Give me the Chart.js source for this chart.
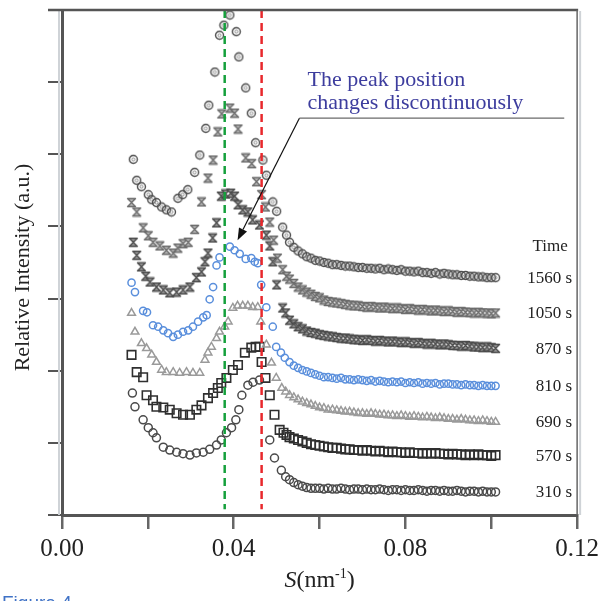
<!DOCTYPE html>
<html><head><meta charset="utf-8">
<script src="https://cdn.jsdelivr.net/npm/chart.js@4.4.1/dist/chart.umd.min.js"></script>
<style>html,body{margin:0;padding:0;background:#fff;} canvas{display:block;}</style>
</head><body>
<canvas id="c" width="604" height="601"></canvas>
<script>
// ---- data ----
const timeLabels = ['1560 s','1050 s','870 s','810 s','690 s','570 s','310 s'];
const xTickLabels = ['0.00','0.04','0.08','0.12'];
const peakLineS = [0.0379, 0.0465]; // green, red dashed markers

const sTail = [0.053,0.054,0.055,0.056,0.057,0.058,0.059,0.060,0.061,0.062,
  0.063,0.064,0.065,0.066,0.067,0.068,0.069,0.070,0.071,0.072,
  0.073,0.074,0.075,0.076,0.077,0.078,0.079,0.080,0.081,0.082,
  0.083,0.084,0.085,0.086,0.087,0.088,0.089,0.090,0.091,0.092,
  0.093,0.094,0.095,0.096,0.097,0.098,0.099,0.100,0.101];

const head1560S = [0.0166,0.0174,0.0185,0.0201,0.0209,0.0220,0.0232,0.0243,0.0255,0.0270,0.0281,0.0293,0.0309,0.0321,0.0335,0.0342,0.0356,0.0367,0.0377,0.0391,0.0406,0.0412,0.0428,0.0441,0.0451,0.0468,0.0476,0.0491,0.0500,0.0514,0.0523];
const head1560I = [4.93,4.64,4.55,4.44,4.37,4.33,4.27,4.23,4.20,4.39,4.44,4.51,4.75,4.99,5.36,5.68,6.14,6.65,6.79,6.93,6.70,6.35,5.92,5.57,5.16,4.92,4.71,4.34,4.21,3.99,3.88];
const tail1560 = [3.78,3.71,3.66,3.62,3.58,3.56,3.53,3.52,3.50,3.49,3.47,3.47,3.46,3.45,3.45,3.44,3.43,3.43,3.42,3.42,3.41,3.42,3.40,3.41,3.40,3.39,3.40,3.38,3.38,3.37,3.38,3.36,3.36,3.35,3.36,3.34,3.35,3.34,3.33,3.33,3.32,3.32,3.31,3.31,3.30,3.30,3.29,3.29,3.29];

const head1050S = [0.0162,0.0174,0.0189,0.0201,0.0212,0.0228,0.0243,0.0259,0.0270,0.0282,0.0294,0.0309,0.0325,0.0340,0.0352,0.0363,0.0372,0.0391,0.0402,0.0410,0.0428,0.0442,0.0453,0.0465,0.0474,0.0484,0.0493,0.0502,0.0514,0.0523];
const head1050I = [4.33,4.20,3.98,3.87,3.78,3.73,3.67,3.63,3.70,3.76,3.78,3.96,4.34,4.67,4.92,5.31,5.56,5.64,5.57,5.35,4.95,4.87,4.62,4.44,4.27,4.06,3.81,3.56,3.40,3.31];
const tail1050 = [3.27,3.21,3.16,3.12,3.09,3.06,3.03,3.01,2.98,2.96,2.95,2.94,2.93,2.92,2.91,2.90,2.90,2.89,2.88,2.89,2.88,2.87,2.88,2.87,2.86,2.87,2.86,2.85,2.86,2.85,2.84,2.85,2.84,2.83,2.84,2.83,2.82,2.83,2.82,2.81,2.82,2.81,2.81,2.80,2.81,2.80,2.80,2.79,2.80];

const head870S = [0.0166,0.0174,0.0185,0.0195,0.0205,0.0220,0.0236,0.0251,0.0267,0.0282,0.0298,0.0313,0.0325,0.0333,0.0340,0.0351,0.0360,0.0371,0.0381,0.0393,0.0402,0.0410,0.0421,0.0433,0.0444,0.0460,0.0476,0.0484,0.0491,0.0500,0.0514,0.0521];
const head870I = [3.78,3.60,3.44,3.31,3.23,3.16,3.12,3.08,3.09,3.12,3.16,3.29,3.37,3.51,3.63,3.84,4.05,4.42,4.45,4.46,4.42,4.30,4.23,4.20,4.09,4.02,3.88,3.73,3.51,3.19,2.87,2.80];
const tail870 = [2.70,2.65,2.61,2.58,2.55,2.53,2.52,2.50,2.49,2.48,2.47,2.46,2.45,2.45,2.44,2.43,2.43,2.42,2.43,2.42,2.41,2.42,2.41,2.40,2.41,2.40,2.39,2.40,2.39,2.38,2.39,2.38,2.37,2.38,2.37,2.36,2.37,2.36,2.35,2.35,2.34,2.35,2.34,2.33,2.33,2.32,2.33,2.32,2.31];

const head810S = [0.0162,0.0170,0.0189,0.0198,0.0212,0.0224,0.0236,0.0247,0.0259,0.0270,0.0282,0.0294,0.0305,0.0317,0.0329,0.0337,0.0344,0.0352,0.0360,0.0367,0.0391,0.0402,0.0414,0.0428,0.0441,0.0449,0.0456,0.0464,0.0476,0.0491,0.0499,0.0510,0.0519];
const head810I = [3.22,3.09,2.83,2.81,2.63,2.61,2.56,2.52,2.47,2.50,2.54,2.56,2.61,2.68,2.74,2.77,2.99,3.16,3.46,3.57,3.72,3.67,3.62,3.55,3.56,3.51,3.49,3.19,2.88,2.61,2.33,2.25,2.18];
const tail810 = [2.12,2.07,2.04,2.01,1.99,1.97,1.95,1.93,1.91,1.91,1.90,1.89,1.90,1.88,1.88,1.87,1.88,1.87,1.86,1.87,1.85,1.86,1.85,1.84,1.85,1.84,1.85,1.83,1.84,1.83,1.84,1.82,1.83,1.82,1.83,1.81,1.82,1.82,1.81,1.81,1.80,1.81,1.80,1.80,1.79,1.80,1.79,1.79,1.79];

const head690S = [0.0162,0.0170,0.0185,0.0197,0.0209,0.0220,0.0232,0.0243,0.0259,0.0274,0.0290,0.0305,0.0321,0.0333,0.0340,0.0348,0.0360,0.0367,0.0379,0.0387,0.0398,0.0409,0.0421,0.0433,0.0444,0.0456,0.0463,0.0476,0.0488,0.0499,0.0512,0.0521];
const head690I = [2.80,2.54,2.38,2.31,2.22,2.12,2.01,1.98,1.98,1.97,1.98,1.97,1.97,2.15,2.25,2.33,2.45,2.54,2.61,2.68,2.87,2.90,2.90,2.90,2.88,2.88,2.68,2.36,2.11,1.90,1.76,1.71];
const tail690 = [1.66,1.63,1.60,1.57,1.55,1.53,1.51,1.49,1.48,1.46,1.46,1.45,1.44,1.43,1.43,1.42,1.41,1.41,1.40,1.41,1.40,1.39,1.39,1.38,1.38,1.37,1.38,1.37,1.36,1.37,1.36,1.35,1.36,1.35,1.34,1.35,1.34,1.33,1.33,1.32,1.33,1.32,1.31,1.31,1.30,1.31,1.30,1.29,1.29];

const head570S = [0.0162,0.0174,0.0189,0.0197,0.0212,0.0220,0.0236,0.0251,0.0267,0.0282,0.0298,0.0313,0.0325,0.0340,0.0352,0.0363,0.0371,0.0383,0.0398,0.0410,0.0426,0.0441,0.0451,0.0460,0.0465,0.0474,0.0484,0.0495,0.0507,0.0516,0.0523];
const head570I = [2.22,1.98,1.91,1.66,1.59,1.50,1.49,1.46,1.41,1.39,1.39,1.46,1.52,1.62,1.69,1.76,1.83,1.90,2.01,2.08,2.25,2.32,2.33,2.33,2.12,1.90,1.66,1.39,1.18,1.14,1.11];
const tail570 = [1.08,1.06,1.04,1.02,1.00,0.98,0.97,0.96,0.95,0.94,0.93,0.93,0.92,0.91,0.91,0.90,0.90,0.89,0.90,0.89,0.88,0.89,0.88,0.87,0.88,0.87,0.87,0.86,0.87,0.86,0.86,0.85,0.86,0.85,0.86,0.85,0.85,0.84,0.85,0.84,0.84,0.83,0.84,0.83,0.84,0.83,0.83,0.82,0.83];

const head310S = [0.0164,0.0170,0.0189,0.0201,0.0212,0.0220,0.0236,0.0251,0.0267,0.0282,0.0298,0.0313,0.0329,0.0344,0.0360,0.0371,0.0383,0.0395,0.0405,0.0412,0.0419,0.0433,0.0445,0.0460,0.0484,0.0495,0.0511,0.0521];
const head310I = [1.69,1.50,1.32,1.21,1.14,1.07,0.94,0.90,0.87,0.85,0.83,0.86,0.87,0.91,0.97,1.04,1.14,1.21,1.32,1.46,1.66,1.80,1.84,1.87,1.04,0.79,0.62,0.53];
const tail310 = [0.49,0.45,0.42,0.40,0.38,0.37,0.37,0.37,0.36,0.37,0.36,0.36,0.37,0.36,0.35,0.36,0.36,0.35,0.36,0.35,0.35,0.36,0.35,0.34,0.35,0.35,0.34,0.35,0.34,0.34,0.35,0.34,0.33,0.34,0.34,0.33,0.34,0.33,0.33,0.34,0.33,0.32,0.33,0.33,0.32,0.33,0.32,0.32,0.32];

// annotation anchors (data units)
const noteLines = ['The peak position','changes discontinuously'];
const noteTextS = 0.0572, noteLineI = [5.95, 5.63];
const noteRule = {s0:0.0553, s1:0.1170, i:5.50};
const arrowTip = {s:0.0409, i:3.81};

// ---- helpers ----
function pts(hs, hi, tail){
  return hs.map((s,k)=>({x:s,y:hi[k]})).concat(sTail.map((s,k)=>({x:s,y:tail[k]})));
}
function hourglass(stroke, fill){
  const c=document.createElement('canvas'); c.width=11; c.height=11;
  const g=c.getContext('2d');
  g.beginPath(); g.moveTo(1.5,1.5); g.lineTo(9.5,1.5); g.lineTo(5.5,5.5); g.lineTo(9.5,9.5); g.lineTo(1.5,9.5); g.lineTo(5.5,5.5); g.closePath();
  g.fillStyle=fill; g.fill(); g.strokeStyle=stroke; g.lineWidth=1.3; g.lineJoin='round'; g.stroke();
  return c;
}
function circDot(){
  const c=document.createElement('canvas'); c.width=11; c.height=11;
  const g=c.getContext('2d');
  g.beginPath(); g.arc(5.5,5.5,4,0,2*Math.PI); g.strokeStyle='#4d4d4d'; g.lineWidth=1.4; g.stroke();
  g.beginPath(); g.arc(5.5,5.5,1.5,0,2*Math.PI); g.strokeStyle='#8a8a8a'; g.lineWidth=1; g.stroke();
  return c;
}
function vline(s, color){
  return {data:[{x:s,y:7},{x:s,y:0.08}], showLine:true, borderColor:color, borderWidth:2.5, borderDash:[8,5], pointRadius:0, fill:false};
}
function series(data, style, color, radius, lw){
  return {data, showLine:false, pointStyle:style, pointRadius:radius, borderColor:color, backgroundColor:'rgba(0,0,0,0)', pointBorderWidth:lw, pointHoverRadius:radius};
}

const seriesData = [
  pts(head1560S, head1560I, tail1560),
  pts(head1050S, head1050I, tail1050),
  pts(head870S, head870I, tail870),
  pts(head810S, head810I, tail810),
  pts(head690S, head690I, tail690),
  pts(head570S, head570I, tail570),
  pts(head310S, head310I, tail310)
];

const SERIF = '"Liberation Serif", "Times New Roman", serif';

const overlay = {
  id:'overlay',
  afterDraw(chart){
    const {ctx, chartArea:a, scales:{x, y}} = chart;
    ctx.save();
    // frame
    ctx.strokeStyle='#cfd3d7'; ctx.lineWidth=2;
    ctx.beginPath(); ctx.moveTo(a.left-3, a.top); ctx.lineTo(a.left-3, a.bottom); ctx.stroke();
    ctx.beginPath(); ctx.moveTo(a.right+3, a.top+1); ctx.lineTo(a.right+3, a.bottom); ctx.stroke();
    ctx.strokeStyle='#555'; ctx.lineWidth=2.5;
    ctx.beginPath(); ctx.moveTo(a.left-14, a.top); ctx.lineTo(a.right+1, a.top); ctx.stroke();
    ctx.strokeStyle='#666'; ctx.lineWidth=1.5;
    ctx.beginPath(); ctx.moveTo(a.right, a.top); ctx.lineTo(a.right, a.bottom); ctx.stroke();

    // time labels
    ctx.fillStyle='#222'; ctx.font='17px '+SERIF; ctx.textBaseline='middle';
    ctx.textAlign='right';
    const lastY = [];
    seriesData.forEach((d,k)=>{
      const py = y.getPixelForValue(d[d.length-1].y)+1;
      lastY.push(py);
      ctx.fillText(timeLabels[k], a.right-5, py);
    });
    ctx.textAlign='center';
    ctx.fillText('Time', a.right-27, lastY[0]-32);

    // annotation
    ctx.fillStyle='#3d3d9e'; ctx.font='22px '+SERIF; ctx.textAlign='left'; ctx.textBaseline='alphabetic';
    noteLines.forEach((t,k)=> ctx.fillText(t, x.getPixelForValue(noteTextS), y.getPixelForValue(noteLineI[k])));
    const ry = y.getPixelForValue(noteRule.i);
    const rx0 = x.getPixelForValue(noteRule.s0), rx1 = x.getPixelForValue(noteRule.s1);
    ctx.strokeStyle='#6a6a6a'; ctx.lineWidth=1.3;
    ctx.beginPath(); ctx.moveTo(rx0, ry); ctx.lineTo(rx1, ry); ctx.stroke();
    const tx = x.getPixelForValue(arrowTip.s), ty = y.getPixelForValue(arrowTip.i);
    ctx.strokeStyle='#111'; ctx.lineWidth=1.2;
    const ang = Math.atan2(ty-ry, tx-rx0);
    const hl = 12, hw = 4.5;
    const bx = tx - hl*Math.cos(ang), by = ty - hl*Math.sin(ang);
    ctx.beginPath(); ctx.moveTo(rx0, ry); ctx.lineTo(bx, by); ctx.stroke();
    ctx.fillStyle='#111';
    ctx.beginPath(); ctx.moveTo(tx, ty);
    ctx.lineTo(bx + hw*Math.sin(ang), by - hw*Math.cos(ang));
    ctx.lineTo(bx - hw*Math.sin(ang), by + hw*Math.cos(ang));
    ctx.closePath(); ctx.fill();

    // y axis title
    ctx.save();
    ctx.translate(23, (a.top+a.bottom)/2 + 5);
    ctx.rotate(-Math.PI/2);
    ctx.fillStyle='#222'; ctx.font='22px '+SERIF; ctx.textAlign='center'; ctx.textBaseline='middle';
    ctx.fillText('Relative Intensity (a.u.)', 0, 0);
    ctx.restore();

    // x axis title: S(nm-1)
    const base = a.bottom + 72;
    const fMain = '24px '+SERIF, fIt = 'italic 24px '+SERIF, fSup = '14px '+SERIF;
    ctx.fillStyle='#222'; ctx.textBaseline='alphabetic'; ctx.textAlign='left';
    ctx.font=fIt; const w1 = ctx.measureText('S').width;
    ctx.font=fMain; const w2 = ctx.measureText('(nm').width; const w4 = ctx.measureText(')').width;
    ctx.font=fSup; const w3 = ctx.measureText('-1').width;
    let cx = (a.left+a.right)/2 - (w1+w2+w3+w4)/2;
    ctx.font=fIt; ctx.fillText('S', cx, base); cx += w1;
    ctx.font=fMain; ctx.fillText('(nm', cx, base); cx += w2;
    ctx.font=fSup; ctx.fillText('-1', cx, base-9); cx += w3;
    ctx.font=fMain; ctx.fillText(')', cx, base);

    // figure caption (cut by page edge)
    ctx.fillStyle='#3f72c6'; ctx.font='19px "Liberation Sans", Arial, sans-serif';
    ctx.fillText('Figure 4', 2, 609);
    ctx.restore();
  }
};

new Chart(document.getElementById('c'), {
  type:'scatter',
  data:{ datasets:[
    vline(peakLineS[0], '#15a03c'),
    vline(peakLineS[1], '#e8282c'),
    series(seriesData[0], circDot(), '#4d4d4d', 4, 1.4),
    series(seriesData[1], hourglass('#6a6a6a','#b8b8b8'), '#6a6a6a', 4, 1.3),
    series(seriesData[2], hourglass('#4a4a4a','#9a9a9a'), '#4a4a4a', 4, 1.3),
    series(seriesData[3], 'circle', '#5a8fdc', 3.6, 1.5),
    series(seriesData[4], 'triangle', '#9a9a9a', 4.5, 1.5),
    series(seriesData[5], 'rect', '#2f2f2f', 6, 1.6),
    series(seriesData[6], 'circle', '#4a4a4a', 4, 1.5)
  ]},
  options:{
    responsive:false, animation:false,
    layout:{padding:{left:0, right:26, top:10, bottom:0}},
    plugins:{legend:{display:false}, tooltip:{enabled:false}},
    scales:{
      x:{ type:'linear', min:0, max:0.12,
        border:{display:true, color:'#555', width:3},
        grid:{display:true, drawOnChartArea:false, drawTicks:true, tickLength:14, color:'#666', lineWidth:2.5},
        ticks:{stepSize:0.02, autoSkip:false, maxRotation:0, padding:5, color:'#222',
          font:{family:'Liberation Serif', size:25},
          callback:(v)=>{ const l = xTickLabels.find(t=>Math.abs(parseFloat(t)-v)<1e-9); return l===undefined?'':l; }},
        afterFit:(s)=>{ s.height = 86; }
      },
      y:{ type:'linear', min:0, max:7,
        border:{display:true, color:'#555', width:3},
        grid:{display:true, drawOnChartArea:false, drawTicks:true, tickLength:14, color:'#555', lineWidth:2},
        ticks:{stepSize:1, display:false},
        afterFit:(s)=>{ s.width = 62; }
      }
    }
  },
  plugins:[overlay]
});
</script>
</body></html>
